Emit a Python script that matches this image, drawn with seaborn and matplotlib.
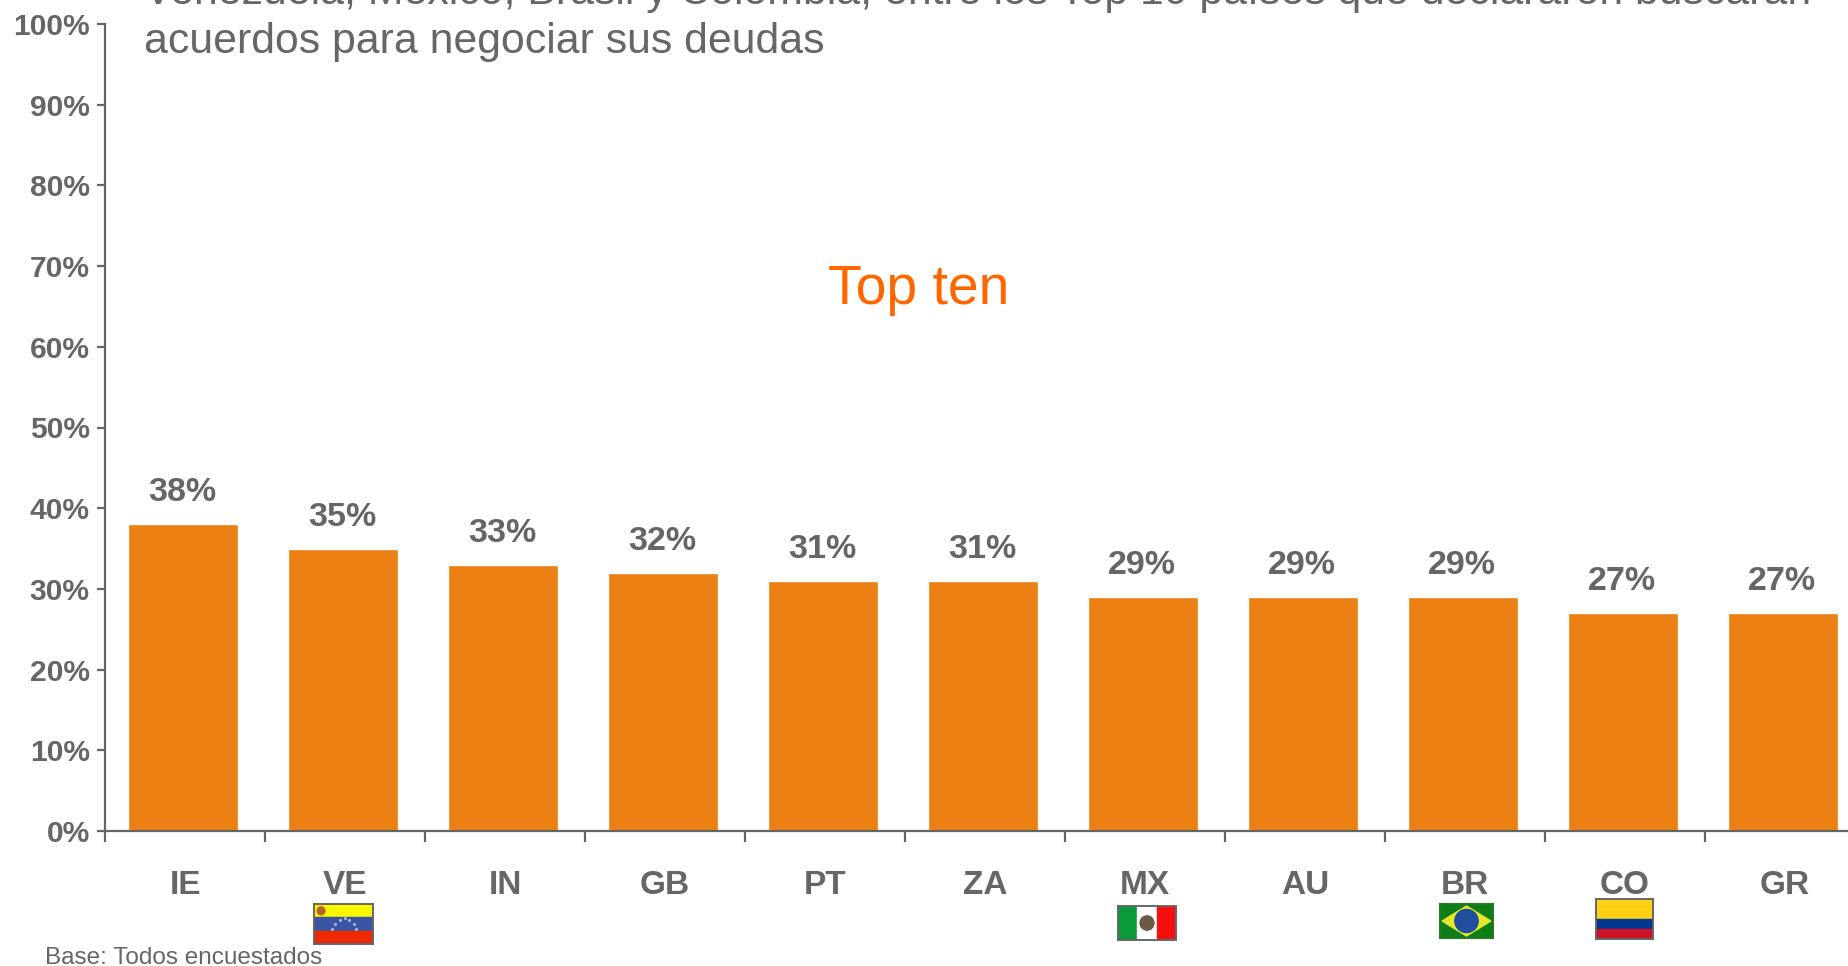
import matplotlib
matplotlib.use("Agg")
import matplotlib.pyplot as plt
from matplotlib.patches import Ellipse, Polygon, Rectangle
import pandas as pd
import seaborn as sns

W, H = 1848, 966
GREY = "#666666"

countries = ["IE", "VE", "IN", "GB", "PT", "ZA", "MX", "AU", "BR", "CO", "GR"]
values = [38, 35, 33, 32, 31, 31, 29, 29, 29, 27, 27]
y_ticks = [0, 10, 20, 30, 40, 50, 60, 70, 80, 90, 100]
y_labels = ["0%", "10%", "20%", "30%", "40%", "50%", "60%", "70%", "80%", "90%", "100%"]

title = ("Venezuela, México, Brasil y Colombia, entre los Top 10 países que declararon buscarán\n"
         "acuerdos para negociar sus deudas")
subtitle = "Top ten"
footnote = "Base: Todos encuestados"


def flag_axes(x0, y0, x1, y1, edge=GREY):
	# pixel box measured from the top left of the image
	a = fig.add_axes([x0 / W, 1 - y1 / H, (x1 - x0) / W, (y1 - y0) / H])
	a.set_xlim(0, 1)
	a.set_ylim(0, 1)
	a.set_xticks([])
	a.set_yticks([])
	for s in a.spines.values():
		s.set_color(edge)
		s.set_linewidth(1.4)
	return a


sns.set_style("white")
plt.rcParams["font.family"] = ["Liberation Sans", "DejaVu Sans"]

fig = plt.figure(figsize=(W / 100, H / 100), dpi=100, facecolor="white")
# the last category runs past the right edge of the picture, as in the source slide
ax = fig.add_axes([105 / W, 1 - 831 / H, 1760 / W, 807 / H])

df = pd.DataFrame({"country": countries, "value": values})
sns.barplot(data=df, x="country", y="value", color="#EC8012", saturation=1, width=0.685, ax=ax)
# bars sit slightly left of the middle of each slot in the source
for bar in ax.containers[0]:
	bar.set_x(bar.get_x() - 0.011)
bar_texts = ax.bar_label(ax.containers[0], fmt="%d%%", padding=11.5, color=GREY, fontsize=24.5, fontweight="bold")
for t in bar_texts:
	t.xyann = (-0.7, 11.5)

ax.set_xlim(-0.5, len(countries) - 0.5)
ax.set_ylim(0, 100)
ax.set_xlabel("")
ax.set_ylabel("")
ax.set_yticks(y_ticks)
ax.set_yticklabels(y_labels, color=GREY, fontsize=21.6, fontweight="bold")
ax.tick_params(axis="y", left=True, length=6, width=1.6, color=GREY, pad=5)

# ticks sit between the bars, labels under the bars
ax.set_xticks([i - 0.5 for i in range(len(countries))])
ax.set_xticklabels([])
ax.set_xticks(range(len(countries)), minor=True)
ax.set_xticklabels(countries, minor=True, color=GREY, fontsize=24, fontweight="bold")
ax.tick_params(axis="x", which="major", bottom=True, length=8, width=1.6, color=GREY)
ax.tick_params(axis="x", which="minor", bottom=False, length=0, pad=28)

sns.despine(ax=ax)
ax.spines["left"].set_color(GREY)
ax.spines["bottom"].set_color(GREY)
ax.spines["left"].set_linewidth(1.6)
ax.spines["bottom"].set_linewidth(1.6)

fig.text(144 / W, 1 - 62.5 / H, title, color=GREY, fontsize=30.8, ha="left", va="bottom", linespacing=1.32)
fig.text(919 / W, 1 - 289.5 / H, subtitle, color="#FF6600", fontsize=39.8, ha="center", va="center")
fig.text(45 / W, 1 - 958.5 / H, footnote, color=GREY, fontsize=17.5, ha="left", va="center")

# Venezuela
a = flag_axes(314, 904, 373, 944)
a.add_patch(Rectangle((0, 2 / 3), 1, 1 / 3, color="#FBF500"))
a.add_patch(Rectangle((0, 1 / 3), 1, 1 / 3, color="#3B55A5"))
a.add_patch(Rectangle((0, 0), 1, 1 / 3, color="#EE2A05"))
a.add_patch(Ellipse((0.12, 0.83), 0.13, 0.2, color="#B5651D"))
a.scatter([0.3, 0.36, 0.44, 0.52, 0.6, 0.68, 0.72], [0.38, 0.5, 0.6, 0.64, 0.6, 0.5, 0.38], s=1.5, color="#A9B5DC")

# Mexico
a = flag_axes(1118, 906, 1176, 940)
a.add_patch(Rectangle((0, 0), 1 / 3, 1, color="#0A9A3A"))
a.add_patch(Rectangle((1 / 3, 0), 1 / 3, 1, color="white"))
a.add_patch(Rectangle((2 / 3, 0), 1 / 3, 1, color="#F50F0F"))
a.add_patch(Ellipse((0.5, 0.5), 0.24, 0.42, color="#6B5A45"))

# Brazil
a = flag_axes(1440, 904, 1493, 938, edge="#1F7A1F")
a.add_patch(Rectangle((0, 0), 1, 1, color="#0E7F16"))
a.add_patch(Polygon([(0.04, 0.5), (0.5, 0.94), (0.96, 0.5), (0.5, 0.06)], color="#E6E62A"))
a.add_patch(Ellipse((0.5, 0.5), 0.44, 0.68, color="#1F4F9C"))

# Colombia
a = flag_axes(1596, 899, 1653, 939)
a.add_patch(Rectangle((0, 0.5), 1, 0.5, color="#FFD014"))
a.add_patch(Rectangle((0, 0.25), 1, 0.25, color="#003893"))
a.add_patch(Rectangle((0, 0), 1, 0.25, color="#CE1126"))

fig.savefig("out.png", dpi=100)
